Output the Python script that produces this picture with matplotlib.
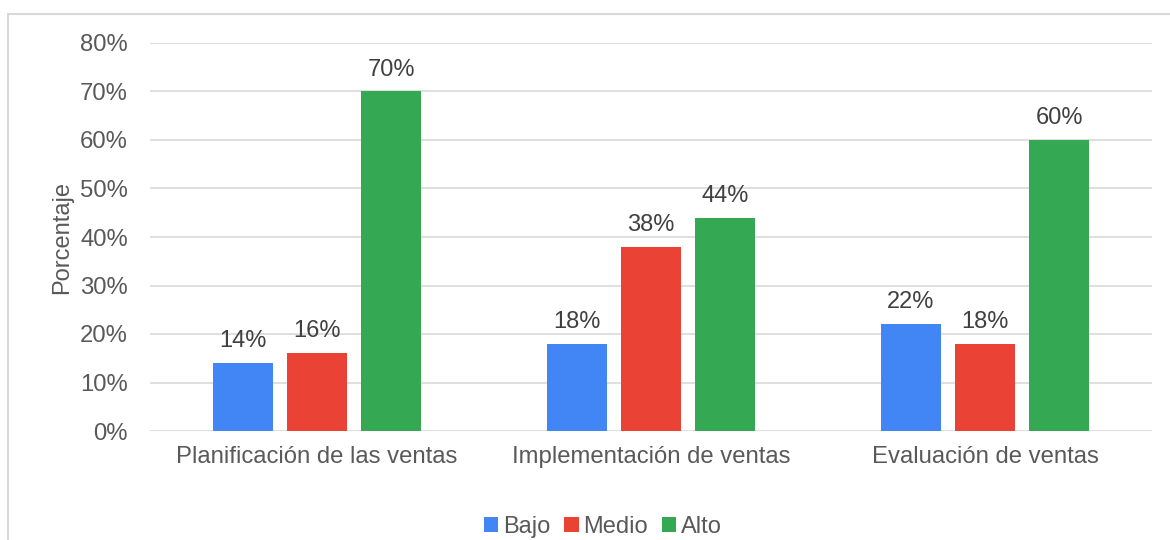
import matplotlib.pyplot as plt
import numpy as np
from matplotlib.patches import Patch, Rectangle
from matplotlib.ticker import PercentFormatter

# Survey results per sales stage
categories = ["Planificación de las ventas", "Implementación de ventas", "Evaluación de ventas"]
levels = ["Bajo", "Medio", "Alto"]
bajo = [14, 18, 22]
medio = [16, 38, 18]
alto = [70, 44, 60]
colors = ["#4285F4", "#EA4335", "#34A853"]
yticks = [0, 10, 20, 30, 40, 50, 60, 70, 80]

plt.rcParams['font.family'] = ['Liberation Sans', 'DejaVu Sans']
text_color = "#595959"
grid_color = "#D9D9D9"

fig = plt.figure(figsize=(11.7, 5.4), dpi=100)
ax = fig.add_axes([150 / 1170, 1 - 431 / 540, 1002 / 1170, 388 / 540])

# outer chart frame
fig.patches.append(Rectangle((8 / 1170, -0.05), 1.1, 1 - 14 / 540 + 0.05,
                             transform=fig.transFigure, fill=False,
                             edgecolor=grid_color, linewidth=1.5))

x = np.arange(len(categories))
width = 0.177
offset = 0.2216
series = [bajo, medio, alto]

for i, (vals, col) in enumerate(zip(series, colors)):
    pos = x + (i - 1) * offset
    bars = ax.bar(pos, vals, width=width, color=col, zorder=3)
    for b, v in zip(bars, vals):
        ax.annotate(f"{v}%", (b.get_x() + b.get_width() / 2, v),
                    xytext=(0, 11.5), textcoords="offset points",
                    ha="center", va="baseline", fontsize=17, color="#404040")

ax.set_xlim(-0.5, len(categories) - 0.5)
ax.set_ylim(0, 80)
ax.set_yticks(yticks)
ax.yaxis.set_major_formatter(PercentFormatter(decimals=0))
ax.set_xticks(x)
ax.set_xticklabels(categories)
ax.tick_params(axis="both", length=0, labelsize=17.2, colors=text_color)
ax.tick_params(axis="y", pad=16)
ax.tick_params(axis="x", pad=11)
ax.grid(axis="y", color=grid_color, linewidth=1.2, zorder=0)
for s in ax.spines.values():
    s.set_visible(False)

ax.set_ylabel("Porcentaje", fontsize=17, color=text_color, labelpad=5)

handles = [Patch(facecolor=c, edgecolor="none", label=l) for c, l in zip(colors, levels)]
fig.legend(handles=handles, loc="center", bbox_to_anchor=(603 / 1170, 1 - 527 / 540),
           ncol=3, frameon=False, fontsize=17, handlelength=0.6, handleheight=0.6,
           handletextpad=0.2, columnspacing=0.6, labelcolor=text_color)

fig.savefig("out.png", dpi=100)
